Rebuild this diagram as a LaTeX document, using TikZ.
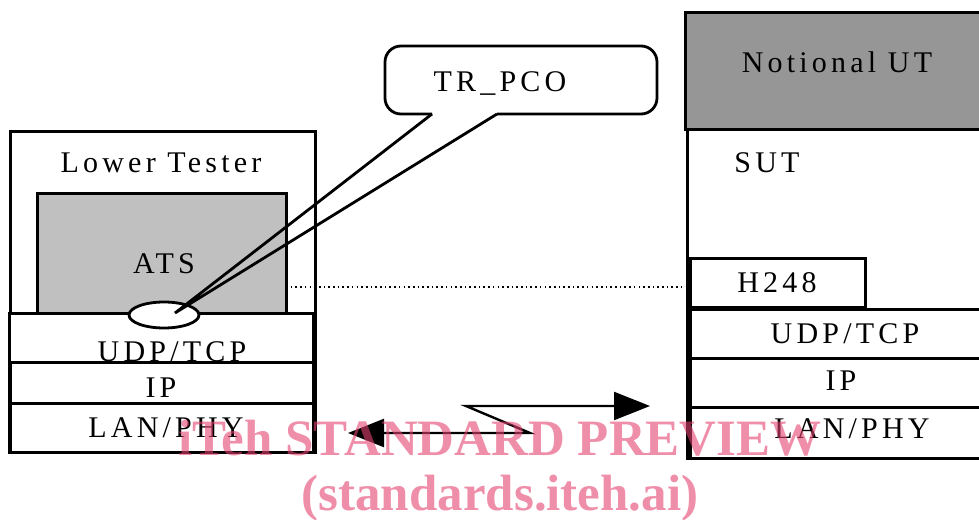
\documentclass[tikz,border=0pt]{standalone}
\usepackage{fontspec}
\setmainfont{Liberation Serif}[LetterSpace=14]
\newfontfamily\wmfont{Liberation Serif}
\usetikzlibrary{arrows.meta,shapes.geometric}
\definecolor{atsgray}{RGB}{192,192,192}
\definecolor{utgray}{RGB}{150,150,150}
\definecolor{wmpink}{RGB}{228,66,112}
\tikzset{
  box/.style={draw,line width=3pt,rectangle,anchor=north west,inner sep=0pt,outer sep=0pt},
  lbl/.style={anchor=base,inner sep=0pt,font=\fontsize{30}{36}\selectfont},
  callout/.style={line width=2.8pt},
  arr/.style={line width=2.4pt,{Triangle[length=36pt,width=28pt]}-{Triangle[length=36pt,width=28pt]}},
  dots/.style={line width=1.6pt,dash pattern=on 1.6pt off 3.1pt},
  wm/.style={anchor=base,inner sep=0pt,text=wmpink,opacity=0.6,font=\wmfont\bfseries\fontsize{51}{57}\selectfont}
}
\begin{document}
\begin{tikzpicture}[x=1pt,y=-1pt]
\useasboundingbox (0,0) rectangle (979,519);
% Lower tester
\node[box,minimum width=305pt,minimum height=321pt] (lt) at (10,131) {};
\node[box,fill=atsgray,minimum width=249pt,minimum height=120pt] (ats) at (37,193) {};
\node[box,fill=white,minimum width=304pt,minimum height=49pt] (ludp) at (9,313) {};
\node[box,minimum width=304pt,minimum height=41pt] (lip) at (9,362) {};
\node[box,minimum width=304pt,minimum height=49pt] (llan) at (9,403) {};
\node[lbl] (ltt) at (161,172) {Lower Tester};
\node[lbl] (atst) at (164,273) {ATS};
\node[lbl] (ludpt) at (172,361) {UDP/TCP};
\node[lbl] (lipt) at (161,397) {IP};
\node[lbl] (llant) at (166,437) {LAN/PHY};
\node[draw,ellipse,fill=white,line width=2.8pt,minimum width=70pt,minimum height=26pt,inner sep=0pt] (pco) at (164,315) {};
% callout
\coordinate (tip) at (175,313);
\coordinate (c1) at (432,114);
\coordinate (c2) at (497,114);
\draw[callout,rounded corners=16pt] (c1) -- (385,114) -- (385,46) -- (657,46) -- (657,114) -- (c2);
\draw[callout,line join=miter] (c1) -- (tip) -- (c2);
\node[lbl] (trpco) at (500,92) {TR\_PCO};
% right side
\node[box,fill=utgray,minimum width=320pt,minimum height=116pt] (nut) at (685,13) {};
\node[box,minimum width=320pt,minimum height=329pt] (sut) at (687,129) {};
\node[box,fill=white,minimum width=175pt,minimum height=49pt] (h248) at (690,258) {};
\node[box,minimum width=320pt,minimum height=49pt] (rudp) at (690,309) {};
\node[box,minimum width=320pt,minimum height=49pt] (rip) at (690,358) {};
\node[box,minimum width=320pt,minimum height=51pt] (rlan) at (690,407) {};
\node[lbl] (nutt) at (837,72) {Notional UT};
\node[lbl] (sutt) at (767,172) {SUT};
\node[lbl] (h248t) at (777,292) {H248};
\node[lbl] (rudpt) at (845,343) {UDP/TCP};
\node[lbl] (ript) at (841,390) {IP};
\node[lbl] (rlant) at (852,438) {LAN/PHY};
% dotted link
\draw[dots] (ats.east |- 0,287) -- (h248.west |- 0,287);
% lightning arrow
\coordinate (al) at (348,433);
\coordinate (ar) at (650,406);
\draw[arr] (al) -- (530,433) -- (466,406) -- (ar);
% watermark
\node[wm] (wm1) at (500,455) {iTeh STANDARD PREVIEW};
\node[wm] (wm2) at (500,510) {(standards.iteh.ai)};
\end{tikzpicture}
\end{document}
